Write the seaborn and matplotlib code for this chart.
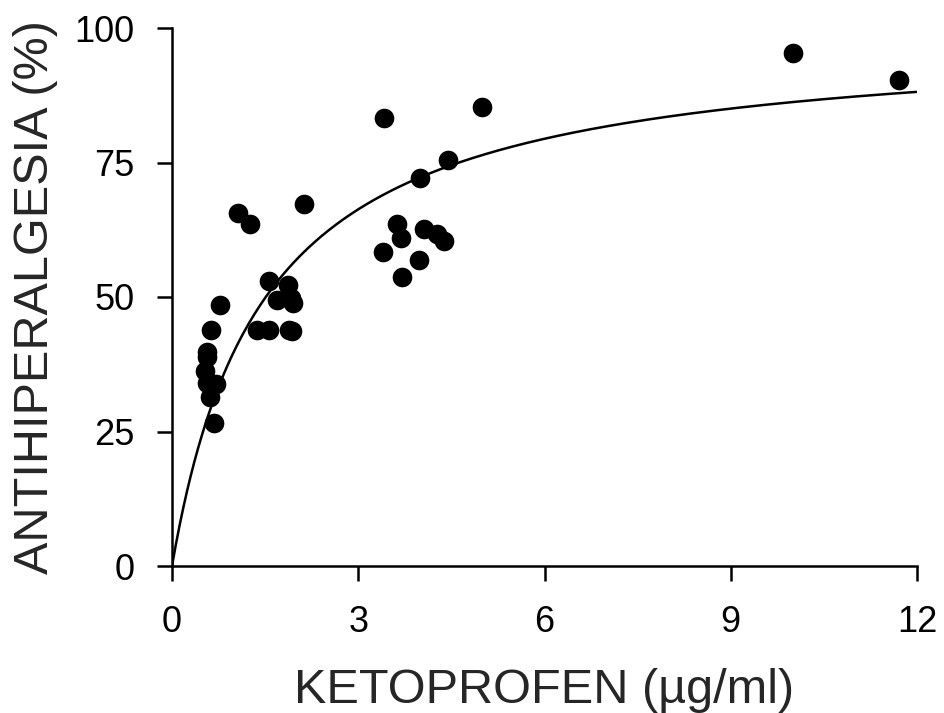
import numpy as np
import pandas as pd
import matplotlib
matplotlib.use("Agg")
import matplotlib.pyplot as plt
import seaborn as sns

# Data
ketoprofen = [0.77, 0.63, 0.56, 0.56, 0.53, 0.56, 0.71, 0.61, 0.68,
              1.06, 1.26, 1.37, 1.56, 1.56, 1.69, 1.87, 1.92, 1.95, 1.88, 1.93,
              2.13, 3.41, 3.40, 3.62, 3.69, 3.70, 4.00, 3.98, 4.06, 4.27, 4.38,
              4.45, 4.99, 10.0, 11.71]
antihiperalgesia = [48.6, 43.8, 39.7, 38.8, 36.2, 34.0, 33.8, 31.5, 26.5,
                    65.7, 63.5, 43.8, 43.8, 53.0, 49.5, 52.3, 49.9, 48.8, 43.8, 43.6,
                    67.3, 83.3, 58.4, 63.6, 60.9, 53.8, 72.2, 56.8, 62.7, 61.8, 60.5,
                    75.5, 85.3, 95.4, 90.4]

# Fitted Emax curve parameters
emax = 99.0
ec50 = 1.48

x_ticks = [0, 3, 6, 9, 12]
y_ticks = [0, 25, 50, 75, 100]

df = pd.DataFrame({"x": ketoprofen, "y": antihiperalgesia})
xc = np.linspace(0, 12, 400)
curve = pd.DataFrame({"x": xc, "y": emax * xc / (ec50 + xc)})

sns.set_style("white")
plt.rcParams["font.family"] = ["Liberation Sans", "DejaVu Sans"]

fig = plt.figure(figsize=(9.44, 7.13), dpi=100)
ax = fig.add_axes([172 / 944, 1 - 566 / 713, (917 - 172) / 944, (566 - 28) / 713])

sns.lineplot(data=curve, x="x", y="y", ax=ax, color="black", linewidth=1.8)
sns.scatterplot(data=df, x="x", y="y", ax=ax, color="black", s=200,
                edgecolor="black", linewidth=0, zorder=3, clip_on=False)

ax.set_xlim(0, 12)
ax.set_ylim(0, 100)
ax.set_xticks(x_ticks)
ax.set_yticks(y_ticks)
ax.set_xticklabels([str(t) for t in x_ticks])
ax.set_yticklabels([str(t) for t in y_ticks])

for side in ["top", "right"]:
    ax.spines[side].set_visible(False)
for side in ["left", "bottom"]:
    ax.spines[side].set_linewidth(1.8)
    ax.spines[side].set_color("black")

ax.tick_params(axis="both", which="both", direction="out", length=11, width=1.8,
               colors="black", labelsize=26, bottom=True, left=True)
ax.tick_params(axis="x", pad=17)
ax.tick_params(axis="y", pad=16)

ax.set_xlabel("KETOPROFEN (µg/ml)", fontsize=35, labelpad=20)
ax.set_ylabel("ANTIHIPERALGESIA (%)", fontsize=35, labelpad=12)

fig.savefig("out.png", dpi=100)
